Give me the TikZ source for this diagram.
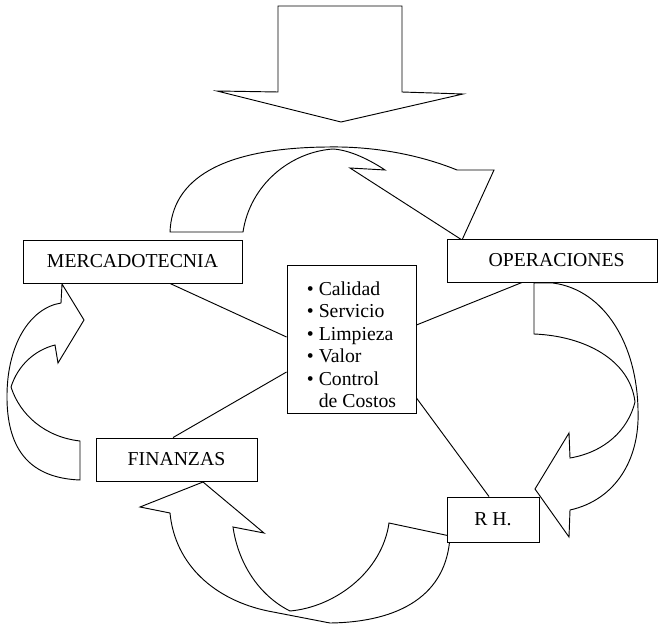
\documentclass[tikz,border=0pt]{standalone}
\usepackage{fontspec}
\setmainfont{Liberation Serif}
\usetikzlibrary{calc}
\begin{document}
\begin{tikzpicture}[x=0.75pt,y=-0.75pt,
  box/.style={draw, line width=0.7pt, fill=white, inner sep=0pt,
    font=\fontsize{14.8}{17}\selectfont},
  arrowshape/.style={draw, line width=0.7pt, fill=white, line join=miter},
  link/.style={draw, line width=0.7pt}]
\useasboundingbox (0,0) rectangle (659,624);

% big down arrow at the top
\path[arrowshape] (278,6) -- (402,6) -- (402,92) -- (463,94) -- (341,122)
  -- (217,91) -- (278,92) -- cycle;

% top curved arrow (MERCADOTECNIA -> OPERACIONES)
\path[arrowshape] (170,232) .. controls (172,180) and (220,148) .. (327,147)
  .. controls (380,146) and (425,157) .. (457,170) -- (494,170) -- (462,240)
  -- (350,168) -- (385,170) .. controls (370,160) and (350,150) .. (333,149)
  .. controls (290,152) and (250,185) .. (243,232) -- cycle;

% right curved arrow (OPERACIONES -> R H.)
\path[arrowshape] (534,283) -- (534,334) .. controls (585,336) and (630,360) .. (635,402)
  .. controls (628,430) and (605,452) .. (570,458) -- (569,433) -- (535,489)
  -- (569,537) -- (570,510) .. controls (615,500) and (640,460) .. (638,410)
  .. controls (637,345) and (605,290) .. (553,283) -- cycle;

% bottom curved arrow (R H. -> FINANZAS)
\path[arrowshape] (203,482) -- (264,533) -- (233,527)
  .. controls (238,562) and (258,595) .. (290,611)
  .. controls (335,607) and (382,572) .. (389,523) -- (450,536)
  .. controls (447,595) and (400,622) .. (330,623) -- (268,611)
  .. controls (215,600) and (175,565) .. (170,513) -- (140,507) -- cycle;

% left curved arrow (FINANZAS -> MERCADOTECNIA)
\path[arrowshape] (62,284) -- (84,320) -- (58,363) -- (55,345)
  .. controls (35,350) and (18,365) .. (11,387)
  .. controls (20,415) and (45,437) .. (80,441) -- (80,480)
  .. controls (30,478) and (8,450) .. (7,400)
  .. controls (6,345) and (30,308) .. (61,303) -- cycle;

% boxes
\node[box, minimum width=164.25pt, minimum height=32.25pt] (merc) at (132.5,261.5) {MERCADOTECNIA};
\node[box, minimum width=157.5pt, minimum height=32.25pt] (oper) at (552,260.5) {\hspace*{7pt}OPERACIONES};
\node[box, minimum width=120.75pt, minimum height=32.25pt] (fin) at (176.5,459.5) {FINANZAS};
\node[box, minimum width=69pt, minimum height=33.75pt] (rh) at (493,519.5) {R H.};
\node[box, minimum width=96.75pt, minimum height=111pt,
  font=\fontsize{14.8}{16.9}\selectfont] (cbox) at (351.5,339)
  {\raisebox{-6pt}[\height][\depth]{\begin{tabular}{@{}l@{}}\textbullet\ Calidad\\ \textbullet\ Servicio\\ \textbullet\ Limpieza\\
   \textbullet\ Valor\\ \textbullet\ Control\\ \phantom{\textbullet\ }de Costos\end{tabular}}};

% connectors
\draw[link] ($(merc.south)+(37.5,0)$) -- ($(cbox.west)+(0,-2)$);
\draw[link] ($(fin.north)+(-3.5,0)$) -- ($(cbox.west)+(0,33)$);
\draw[link] ($(oper.south)+(-30,0)$) -- ($(cbox.east)+(0,-14)$);
\draw[link] ($(cbox.east)+(0,59)$) -- ($(rh.north)+(-4,0)$);
\end{tikzpicture}
\end{document}
